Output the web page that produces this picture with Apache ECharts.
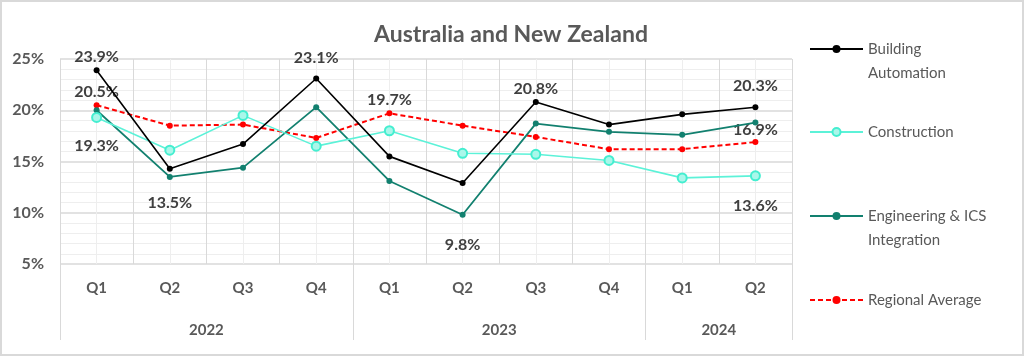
<!DOCTYPE html>
<html><head><meta charset="utf-8">
<script src="https://cdn.jsdelivr.net/npm/echarts@6/dist/echarts.min.js"></script>
<style>
html,body{margin:0;padding:0;background:#fff;}
#c{position:absolute;left:0;top:0;width:1020px;height:352px;border:2px solid #d9d9d9;}
</style></head>
<body><div id="c"></div>
<script>
const quarters = ['Q1','Q2','Q3','Q4','Q1','Q2','Q3','Q4','Q1','Q2'];
const years = ['2022','2023','2024'];
const quartersPerYear = [4, 4, 2];
const seriesNames = ['Building\nAutomation','Construction','Engineering & ICS\nIntegration','Regional Average'];
const buildingAutomation = [23.9, 14.3, 16.7, 23.1, 15.5, 12.9, 20.8, 18.6, 19.6, 20.3];
const construction       = [19.3, 16.1, 19.5, 16.5, 18.0, 15.8, 15.7, 15.1, 13.4, 13.6];
const engineering        = [20.0, 13.5, 14.4, 20.3, 13.1, 9.8, 18.7, 17.9, 17.6, 18.8];
const regionalAverage    = [20.5, 18.5, 18.6, 17.3, 19.7, 18.5, 17.4, 16.2, 16.2, 16.9];
const yTicks = [5, 10, 15, 20, 25];

// which points carry a data label (layout only)
const labelSpec = [
  {0:['top',2], 3:['top',10], 6:['top',2], 9:['top',10]},
  {0:['bottom',15], 9:['bottom',16]},
  {1:['bottom',15], 5:['bottom',19]},
  {0:['top',2], 4:['top',2,14], 9:['top',1]}
];

const yearBounds = [0];
quartersPerYear.forEach(n => yearBounds.push(yearBounds[yearBounds.length-1] + n));
const yearCenters = quartersPerYear.map((n,i) => yearBounds[i] + n/2);

const FONT = 'Lato';
const labelStyle = {fontFamily: FONT, fontWeight: 'bold', fontSize: 16, color: '#404040'};

function buildData(values, spec) {
  return values.map((v, i) => {
    if (!spec[i]) return v;
    const s = spec[i];
    return {value: v, label: Object.assign({show: true, position: s[0], distance: s[1], offset: [s[2]||0, 0],
      formatter: p => p.value.toFixed(1) + '%'}, labelStyle)};
  });
}

const styles = [
  {color:'#000000', lineStyle:{color:'#000000', width:1.6}, itemStyle:{color:'#000000'}, symbolSize:6},
  {color:'#5cf2d8', lineStyle:{color:'#5cf2d8', width:1.6}, itemStyle:{color:'#aaf7ea', borderColor:'#44eed0', borderWidth:2}, symbolSize:9},
  {color:'#12806f', lineStyle:{color:'#12806f', width:1.8}, itemStyle:{color:'#12806f'}, symbolSize:6},
  {color:'#ff0000', lineStyle:{color:'#ff0000', width:2, type:[5,3]}, itemStyle:{color:'#ff0000'}, symbolSize:6}
];
const allValues = [buildingAutomation, construction, engineering, regionalAverage];

const series = allValues.map((vals, k) => Object.assign({
  name: seriesNames[k], type: 'line', xAxisIndex: 0, yAxisIndex: 0,
  symbol: 'circle', showAllSymbol: true, z: 10 - k,
  data: buildData(vals, labelSpec[k]),
  labelLayout: {hideOverlap: false}, animation: false
}, styles[k]));

const legendTops = [11, 118, 178, 286];
const legends = seriesNames.map((n, k) => ({
  orient: 'vertical', left: 807, top: legendTops[k], itemWidth: 53, itemHeight: 10, itemGap: 0, padding: 0,
  data: [n], selectedMode: false,
  formatter: name => name.indexOf('\n') >= 0 ? '\n' + name : name,
  textStyle: {fontFamily: FONT, fontSize: 15, color: '#595959', lineHeight: 24}
}));

const chart = echarts.init(document.getElementById('c'), null, {renderer: 'canvas'});
chart.setOption({
  animation: false,
  title: {text: 'Australia and New Zealand', left: 504, textAlign: 'center', top: 16,
    textStyle: {fontFamily: FONT, fontSize: 23, fontWeight: 'bold', color: '#595959'}},
  legend: legends,
  grid: {left: 58, right: 230, top: 57, bottom: 90, containLabel: false},
  xAxis: [
    {type: 'category', data: quarters, position: 'bottom', boundaryGap: true,
      axisLine: {show: false}, axisTick: {show: false}, splitLine: {show: false},
      axisLabel: {margin: 17, fontFamily: FONT, fontWeight: 'bold', fontSize: 15, color: '#595959'}},
    {type: 'value', min: 0, max: quarters.length, interval: 1, position: 'top',
      axisLine: {show: false}, axisTick: {show: false}, axisLabel: {show: false},
      splitLine: {show: true, lineStyle: {color: '#d9d9d9', width: 1}},
      minorTick: {show: false, splitNumber: 2},
      minorSplitLine: {show: true, lineStyle: {color: '#eeeeee', width: 1}}},
    {type: 'value', min: 0, max: quarters.length, position: 'bottom',
      axisLine: {show: false}, splitLine: {show: false},
      axisTick: {show: true, length: 76, customValues: yearBounds, lineStyle: {color: '#d9d9d9', width: 1}},
      axisLabel: {show: true, margin: 59, customValues: yearCenters,
        formatter: v => years[yearCenters.indexOf(v)],
        fontFamily: FONT, fontWeight: 'bold', fontSize: 15, color: '#595959'}}
  ],
  yAxis: [{type: 'value', min: yTicks[0], max: yTicks[yTicks.length-1], interval: 5,
    axisLine: {show: false}, axisTick: {show: false},
    axisLabel: {margin: 16, formatter: '{value}%', fontFamily: FONT, fontWeight: 'bold', fontSize: 16, color: '#595959'},
    splitLine: {show: true, lineStyle: {color: '#d9d9d9', width: 1.5}},
    minorTick: {show: false, splitNumber: 5},
    minorSplitLine: {show: true, lineStyle: {color: '#eeeeee', width: 1}}}],
  series: series
});
</script></body></html>
